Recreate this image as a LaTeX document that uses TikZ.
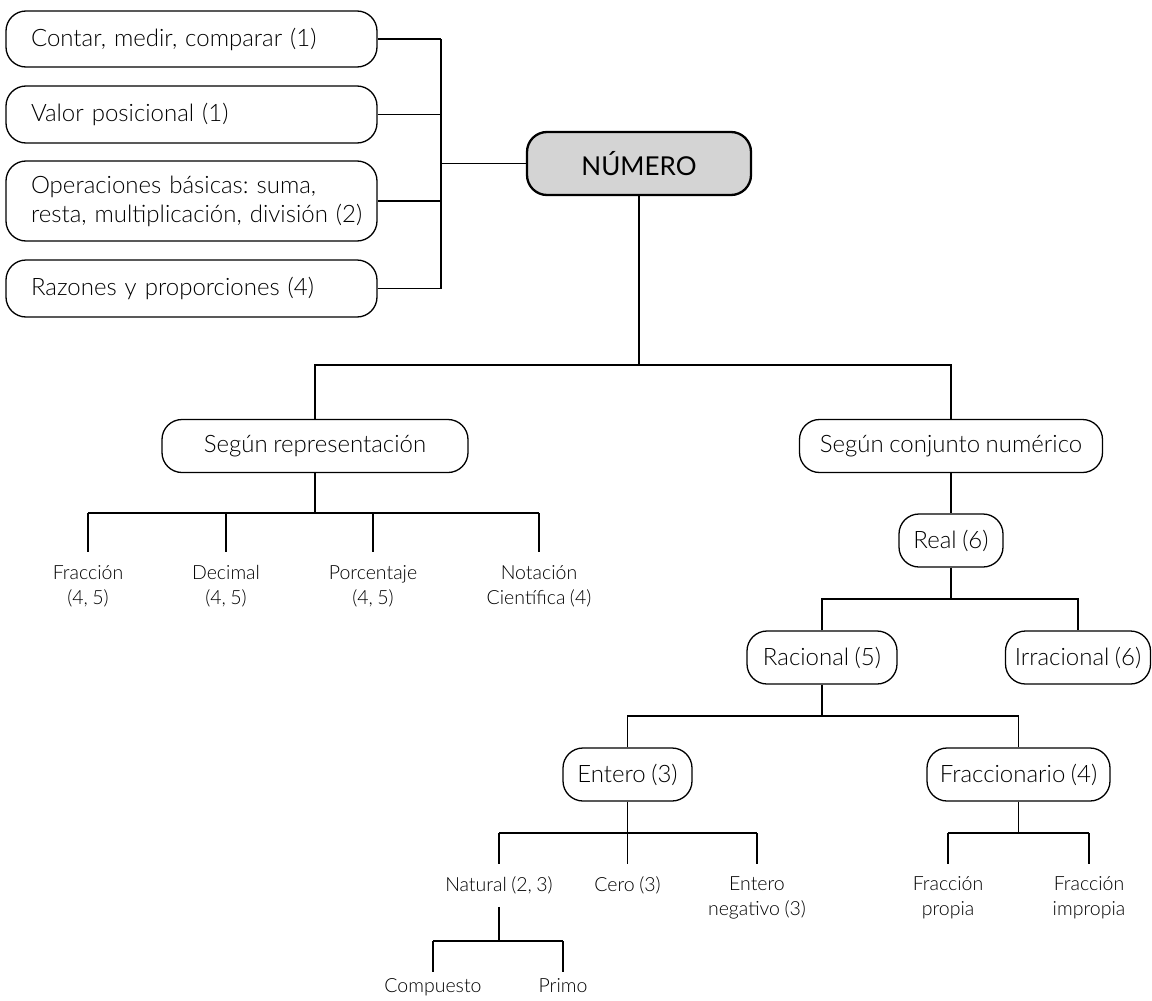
\documentclass[tikz,border=0pt]{standalone}
\usepackage{fontspec}
\setmainfont{Lato}[UprightFont=* Light, BoldFont=* Regular, WordSpace=0.85]
\newfontfamily\strongfont{Lato}
\frenchspacing
\begin{document}
\begin{tikzpicture}[x=1pt,y=-1pt,line width=1.3pt,
  bigtxt/.style={font=\fontsize{24}{29}\selectfont},
  smalltxt/.style={font=\fontsize{19.5}{25}\selectfont},
  lbox/.style={draw,rounded corners=20pt,bigtxt,text width=321pt,align=left,
    inner xsep=25pt,inner ysep=0pt,minimum height=57pt},
  rbox/.style={draw,rounded corners=20pt,bigtxt,align=center,inner sep=0pt,
    minimum height=53pt},
  rootbox/.style={draw,line width=2.3pt,fill=black!17,rounded corners=20pt,
    font=\strongfont\fontsize{26}{30}\selectfont,inner sep=0pt,
    minimum width=224pt,minimum height=63pt},
  leaf/.style={smalltxt,align=center,anchor=north,inner xsep=0pt,inner ysep=12pt},
  link/.style={line width=1.3pt}]
\useasboundingbox (0,0) rectangle (1152,1001);

% topics linked to the central concept
\node[lbox,minimum height=56pt] (c1) at (191.5,39) {Contar, medir, comparar (1)};
\node[lbox] (c2) at (191.5,114.5) {Valor posicional (1)};
\node[lbox,minimum height=80pt] (c3) at (191.5,201) {\mbox{Operaciones básicas: suma,}\\\mbox{resta, multiplicación, división (2)}};
\node[lbox] (c4) at (191.5,288.5) {Razones y proporciones (4)};
\node[rootbox] (num) at (639,163.5) {NÚMERO};

\coordinate (lbus) at (441,0);
\foreach \n in {c1,c2,c3,c4} \draw[link] (\n.east) -- (\n.east -| lbus);
\draw[link] (c1.east -| lbus) -- (c4.east -| lbus);
\draw[link] (num.west) -- (num.west -| lbus);

% two classifications
\node[rbox,minimum width=306pt] (rep) at (315,446) {Según representación};
\node[rbox,minimum width=303pt] (con) at (951,446) {Según conjunto numérico};
\coordinate (b1) at (0,365);
\draw[link] (num.south) -- (num.south |- b1);
\draw[link] (rep.north) -- (rep.north |- b1) -- (con.north |- b1) -- (con.north);

% by representation
\node[leaf,inner ysep=13pt] (fr) at (88,552) {Fracción\\(4, 5)};
\node[leaf,inner ysep=13pt] (de) at (226,552) {Decimal\\(4, 5)};
\node[leaf,inner ysep=13pt] (po) at (373,552) {Porcentaje\\(4, 5)};
\node[leaf,inner ysep=13pt] (no) at (539,552) {Notación\\Científica (4)};
\coordinate (b2) at (0,513);
\draw[link] (rep.south) -- (rep.south |- b2);
\draw[link] (fr.north |- b2) -- (no.north |- b2);
\foreach \n in {fr,de,po,no} \draw[link] (\n.north |- b2) -- (\n.north);

% by number set
\node[rbox,minimum width=104pt] (real) at (951,540.5) {Real (6)};
\node[rbox,minimum width=150pt] (rac) at (822,657.5) {Racional (5)};
\node[rbox,minimum width=145pt] (irr) at (1078,657.5) {Irracional (6)};
\draw[link] (con.south) -- (real.north);
\coordinate (b3) at (0,599);
\draw[link] (real.south) -- (real.south |- b3);
\draw[link] (rac.north) -- (rac.north |- b3) -- (irr.north |- b3) -- (irr.north);

\node[rbox,minimum width=129pt] (ent) at (627.5,774.5) {Entero (3)};
\node[rbox,minimum width=183pt] (fra) at (1018.5,774.5) {Fraccionario (4)};
\coordinate (b4) at (0,716);
\draw[link] (rac.south) -- (rac.south |- b4);
\draw[link] (ent.north) -- (ent.north |- b4) -- (fra.north |- b4) -- (fra.north);

% integers
\node[leaf] (nat) at (499,864) {Natural (2, 3)};
\node[leaf] (cero) at (627.5,864) {Cero (3)};
\node[leaf] (neg) at (757,864) {Entero\\negativo (3)};
\coordinate (b5) at (0,833);
\draw[link] (ent.south) -- (ent.south |- b5);
\draw[link] (nat.north |- b5) -- (neg.north |- b5);
\foreach \n in {nat,cero,neg} \draw[link] (\n.north |- b5) -- (\n.north);

% fractions
\node[leaf] (prop) at (948,864) {Fracción\\propia};
\node[leaf] (imp) at (1089,864) {Fracción\\impropia};
\draw[link] (fra.south) -- (fra.south |- b5);
\draw[link] (prop.north |- b5) -- (imp.north |- b5);
\foreach \n in {prop,imp} \draw[link] (\n.north |- b5) -- (\n.north);

% natural numbers
\node[leaf,inner ysep=6pt] (comp) at (433,972) {Compuesto};
\node[leaf,inner ysep=6pt] (prim) at (563,972) {Primo};
\coordinate (b6) at (0,941);
\draw[link] (nat.south) -- (nat.south |- b6);
\draw[link] (comp.north |- b6) -- (prim.north |- b6);
\foreach \n in {comp,prim} \draw[link] (\n.north |- b6) -- (\n.north);
\end{tikzpicture}
\end{document}
